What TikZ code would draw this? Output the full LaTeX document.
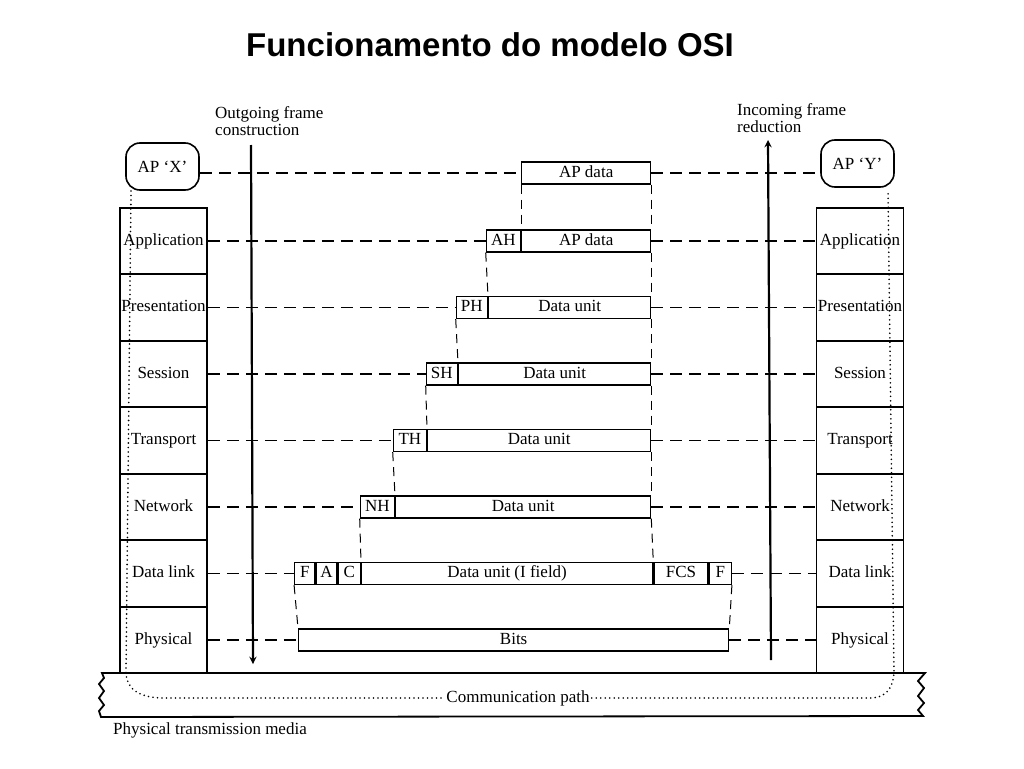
\documentclass[tikz,border=0pt]{standalone}
\usepackage{fontspec}
\setmainfont{Liberation Serif}
\newfontfamily\titlefont{Liberation Sans}
\begin{document}
\begin{tikzpicture}[x=1pt,y=-1pt,
  font=\fontsize{17}{17}\selectfont,
  layer/.style={draw,line width=1.8pt,minimum width=87pt,minimum height=66.5pt,inner sep=0pt,text height=11.5pt,text depth=3.5pt},
  ap/.style={draw,line width=1.6pt,rounded corners=14pt,minimum width=73pt,minimum height=47pt,inner sep=0pt},
  cell/.style={draw,line width=1.3pt,minimum height=22pt,inner sep=0pt,text height=11.5pt,text depth=3.5pt},
  hdash/.style={line width=1.4pt,dash pattern=on 12pt off 7pt},
  vdash/.style={line width=1pt,dash pattern=on 9pt off 6pt},
  dots/.style={line width=1.8pt,line cap=round,dash pattern=on 0pt off 4.5pt}]
\useasboundingbox (0,0) rectangle (1024,768);
\node[font=\titlefont\bfseries\fontsize{33}{36}\selectfont] (title) at (490,45) {Funcionamento do modelo OSI};
% layer stacks
\foreach \n/\y/\t in {1/241/Application,2/307.5/Presentation,3/374/Session,4/440.5/Transport,5/507/Network,6/573.5/Data link,7/640/Physical}{
  \node[layer] (L\n) at (163.5,\y) {\t};
  \node[layer] (R\n) at (860,\y) {\t};
}
\node[ap] (apx) at (162.5,166.5) {AP `X'};
\node[ap] (apy) at (857.5,163.5) {AP `Y'};
% frames
\node[cell,minimum width=129pt,anchor=west] (d0) at (521,173) {AP data};
\node[cell,minimum width=129pt,anchor=west] (d1) at (521,241) {AP data};
\node[cell,minimum width=34pt,anchor=east] (h1) at (d1.west) {AH};
\foreach \n/\y/\l/\w/\h/\hw in {2/307.5/488/162/PH/31,3/374/458/192/SH/31,4/440.5/427/223/TH/33,5/507/395/255/NH/34}{
  \node[cell,minimum width=\w pt,anchor=west] (d\n) at (\l,\y) {Data unit};
  \node[cell,minimum width=\hw pt,anchor=east] (h\n) at (d\n.west) {\h};
}
\node[cell,minimum width=291pt,anchor=west] (d6) at (361,573.5) {Data unit (I field)};
\node[cell,minimum width=22pt,anchor=east] (c6) at (d6.west) {C};
\node[cell,minimum width=21pt,anchor=east] (a6) at (c6.west) {A};
\node[cell,minimum width=20pt,anchor=east] (f6) at (a6.west) {F};
\node[cell,minimum width=54pt,anchor=west] (fcs) at (d6.east) {FCS};
\node[cell,minimum width=22pt,anchor=west] (g6) at (fcs.east) {F};
\node[cell,minimum width=430pt,anchor=west] (d7) at (298,640) {Bits};
% peer dashes
\draw[hdash] (apx.east |- d0.west) -- (d0.west);
\draw[hdash] (d0.east) -- (apy.west |- d0.east);
\foreach \n in {1,...,5}{
  \draw[hdash] (L\n.east) -- (h\n.west);
  \draw[hdash] (d\n.east) -- (R\n.west);
}
\draw[hdash] (L6.east) -- (f6.west);
\draw[hdash] (g6.east) -- (R6.west);
\draw[hdash] (L7.east) -- (d7.west);
\draw[hdash] (d7.east) -- (R7.west);
% frame edges
\draw[vdash] (d0.south west) -- (h1.north east);
\foreach \a/\b in {1/2,2/3,3/4,4/5}
  \draw[vdash] (h\a.south west) -- (h\b.north east);
\draw[vdash] (h5.south west) -- (c6.north east);
\foreach \a/\b in {0/1,1/2,2/3,3/4,4/5,5/6}
  \draw[vdash] (d\a.south east) -- (d\b.north east);
\draw[vdash] (f6.south west) -- (d7.north west);
\draw[vdash] (g6.south east) -- (d7.north east);
% direction arrows
\coordinate (otop) at (251,145);
\coordinate (obot) at (253,664);
\coordinate (itop) at (768,140);
\coordinate (ibot) at (771,660);
\draw[>=stealth,->,line width=2.2pt] (otop) -- (obot);
\draw[>=stealth,->,line width=2.2pt] (ibot) -- (itop);
\node[anchor=north west,align=left,inner sep=0pt] (outlbl) at (215,106) {Outgoing frame\\construction};
\node[anchor=north west,align=left,inner sep=0pt] (inlbl) at (737,103) {Incoming frame\\reduction};
% transmission media
\draw[line width=1.8pt] (102,673) -- (925,673) -- (918,681) -- (924,688) -- (918,696) -- (924,703) -- (918,710) -- (923,716)
  -- (101,717) -- (99,711) -- (104,705) -- (99,698) -- (104,691) -- (99,684) -- (104,678) -- cycle;
\node[inner sep=2pt] (cp) at (518,698) {Communication path};
\node[anchor=west,inner sep=0pt] (ptm) at (113,730) {Physical transmission media};
\coordinate (lt) at (131,191);
\coordinate (rt) at (888,190);
\draw[dots] (lt) -- (126,673) .. controls (127,690) and (140,698) .. (165,698) -- (cp.west);
\draw[dots] (cp.east) -- (870,698) .. controls (886,698) and (893,688) .. (894,673) -- (rt);
\end{tikzpicture}
\end{document}
